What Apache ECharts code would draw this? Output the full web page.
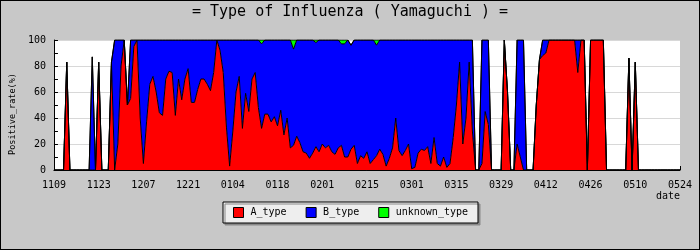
<!DOCTYPE html>
<html>
<head>
<meta charset="utf-8">
<script src="https://cdn.jsdelivr.net/npm/echarts@6/dist/echarts.min.js"></script>
<style>
html,body{margin:0;padding:0;background:#c8c8c8;}
#c{width:700px;height:250px;background:#c8c8c8;box-shadow:inset 0 0 0 1px #000;}
</style>
</head>
<body>
<div id="c"></div>
<script>
// Tick labels of the date axis (every 14 days, 11/09 .. 05/24)
var tickLabels = ['1109','1123','1207','1221','0104','0118','0201','0215','0301','0315','0329','0412','0426','0510','0524'];
var seriesNames = ['A_type','B_type','unknown_type'];

// Daily positive rate (%) per type, day 0 = 11/09 .. day 196 = 05/24
var aType = [
  0,0,0,0,83,0,0,0,0,0,
  0,0,0,0,83,0,0,0,83,0,
  20,80,100,50,55,95,100,40,5,37,
  66,72,60,44,42,70,76,75,42,70,
  54,70,78,52,52,62,70,70,66,61,
  75,100,92,75,33,3,30,60,72,32,
  59,45,70,75,48,32,43,43,37,41,
  34,46,27,40,17,19,26,21,14,13,
  9,13,18,14,20,17,19,14,12,17,
  19,10,10,16,19,5,11,9,14,5,
  8,11,16,12,3,9,17,40,15,11,
  15,20,1,2,13,16,15,18,5,25,
  5,3,10,2,5,25,50,83,20,40,
  83,30,0,0,5,45,35,0,0,0,
  0,100,60,0,0,20,10,0,0,0,
  0,50,85,88,90,100,100,100,100,100,
  100,100,100,100,75,100,100,0,100,100,
  100,100,100,0,0,0,0,0,0,0,
  86,0,83,0,0,0,0,0,0,0,
  0,0,0,0,0,0,0
];
var bType = [
  0,0,0,0,0,0,0,0,0,0,
  0,0,87,0,0,0,0,0,0,100,
  80,20,0,0,45,5,0,60,95,63,
  34,28,40,56,58,30,24,25,58,30,
  46,30,22,48,48,38,30,30,34,39,
  25,0,8,25,67,97,70,40,28,68,
  41,55,30,25,52,65,57,57,63,59,
  66,54,73,60,83,74,74,79,86,87,
  91,87,80,86,80,83,81,86,88,83,
  78,87,90,80,81,95,89,91,86,95,
  92,85,84,88,97,91,83,60,85,89,
  85,80,99,98,87,84,85,82,95,75,
  95,97,90,98,95,75,50,17,80,60,
  17,70,0,0,95,55,65,0,0,0,
  0,0,0,0,0,80,90,100,0,0,
  0,0,0,12,10,0,0,0,0,0,
  0,0,0,0,25,0,0,0,0,0,
  0,0,0,0,0,0,0,0,0,0,
  0,0,0,0,0,0,0,0,0,0,
  0,0,0,0,0,0,0
];
var unknownType = [
  0,0,0,0,0,0,0,0,0,0,
  0,0,0,0,0,0,0,0,0,0,
  0,0,0,0,0,0,0,0,0,0,
  0,0,0,0,0,0,0,0,0,0,
  0,0,0,0,0,0,0,0,0,0,
  0,0,0,0,0,0,0,0,0,0,
  0,0,0,0,0,3,0,0,0,0,
  0,0,0,0,0,7,0,0,0,0,
  0,0,2,0,0,0,0,0,0,0,
  3,3,0,0,0,0,0,0,0,0,
  0,4,0,0,0,0,0,0,0,0,
  0,0,0,0,0,0,0,0,0,0,
  0,0,0,0,0,0,0,0,0,0,
  0,0,0,0,0,0,0,0,0,0,
  0,0,0,0,0,0,0,0,0,0,
  0,0,0,0,0,0,0,0,0,0,
  0,0,0,0,0,0,0,0,0,0,
  0,0,0,0,0,0,0,0,0,0,
  0,0,0,0,0,0,0,0,0,0,
  0,0,0,0,0,0,0
];

// daily categories (MMDD), a non-leap season 11/09 .. 05/24
var days = [];
(function(){
  var d = new Date(Date.UTC(2010, 10, 9));
  for (var i = 0; i < aType.length; i++) {
    var m = d.getUTCMonth() + 1, dd = d.getUTCDate();
    days.push((m < 10 ? '0' : '') + m + (dd < 10 ? '0' : '') + dd);
    d = new Date(d.getTime() + 86400000);
  }
})();

var FONT = 'DejaVu Sans Mono';
function tickEvery(i){ return i % 14 === 0; }
function mk(name, arr, color){
  return {
    name: name, type: 'line', stack: 'total', data: arr,
    showSymbol: false, symbol: 'none',
    lineStyle: {color: '#000', width: 1},
    itemStyle: {color: color},
    areaStyle: {color: color, opacity: 1},
    emphasis: {disabled: true}
  };
}
var chart = echarts.init(document.getElementById('c'), null, {renderer: 'canvas'});
chart.setOption({
  animation: false,
  backgroundColor: 'transparent',
  title: {
    text: '= Type of Influenza ( Yamaguchi ) =',
    left: 'center', top: 5, padding: 0,
    textStyle: {fontFamily: FONT, fontSize: 15, fontWeight: 'normal', color: '#000'}
  },
  legend: {
    left: 223, top: 202, padding: [5, 10], itemGap: 19,
    itemWidth: 10, itemHeight: 10, icon: 'rect',
    backgroundColor: '#eeeeee', borderColor: '#000', borderWidth: 1,
    shadowColor: '#888', shadowOffsetX: 2, shadowOffsetY: 2, shadowBlur: 0,
    itemStyle: {borderColor: '#000', borderWidth: 1},
    textStyle: {fontFamily: FONT, fontSize: 10, color: '#000', padding: [0,0,0,2], lineHeight: 11},
    data: seriesNames
  },
  grid: {left: 50, right: 20, top: 40, bottom: 80, containLabel: false,
    show: true, backgroundColor: '#ffffff', borderWidth: 0},
  xAxis: {
    type: 'category', data: days, boundaryGap: false,
    name: 'date', nameLocation: 'end', nameGap: 0,
    nameTextStyle: {fontFamily: FONT, fontSize: 10, color: '#000', align: 'right', verticalAlign: 'top', padding: [21, 0, 0, 0]},
    axisLine: {show: true, lineStyle: {color: '#000', width: 1}},
    axisTick: {show: true, inside: true, length: 4, interval: tickEvery, lineStyle: {color: '#000'}},
    axisLabel: {fontFamily: FONT, fontSize: 10, color: '#000', margin: 10, interval: tickEvery,
      formatter: function(v, i){ return tickLabels[i / 14] || v; }},
    splitLine: {show: false}
  },
  yAxis: {
    type: 'value', min: 0, max: 100, interval: 20,
    name: 'Positive_rate(%)', nameLocation: 'middle', nameGap: 31,
    nameTextStyle: {fontFamily: FONT, fontSize: 8.5, color: '#000', padding: [0, 18, 0, 0]},
    axisLine: {show: true, lineStyle: {color: '#000', width: 1}},
    axisTick: {show: true, inside: true, length: 4, lineStyle: {color: '#000'}},
    minorTick: {show: true, splitNumber: 2, length: 4, lineStyle: {color: '#000'}},
    axisLabel: {fontFamily: FONT, fontSize: 10, color: '#000', margin: 8},
    splitLine: {show: true, lineStyle: {color: '#d8d8d8', width: 1}}
  },
  series: [
    mk(seriesNames[0], aType, '#ff0000'),
    mk(seriesNames[1], bType, '#0000ff'),
    mk(seriesNames[2], unknownType, '#00ff00')
  ]
});
</script>
</body>
</html>
